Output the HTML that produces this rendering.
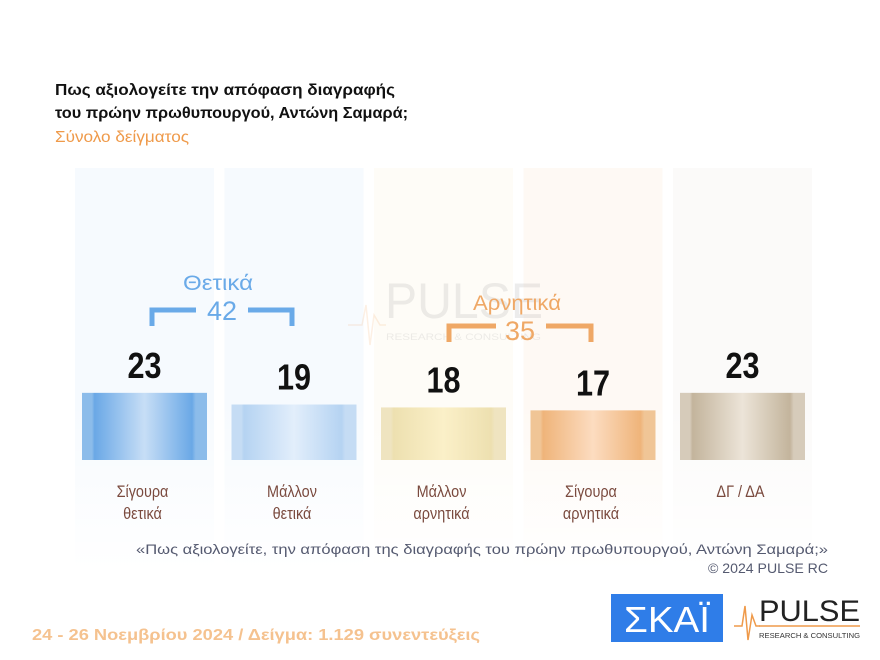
<!DOCTYPE html>
<html><head><meta charset="utf-8">
<style>
html,body{margin:0;padding:0;background:#fff;}
svg{display:block;font-family:"Liberation Sans","DejaVu Sans",sans-serif;}
</style></head>
<body>
<svg id="chart" width="880" height="660" viewBox="0 0 880 660">
<defs>
<linearGradient id="g0" x1="0" x2="1"><stop offset="0" stop-color="#8cbcea"/><stop offset="0.08" stop-color="#8cbcea"/><stop offset="0.1" stop-color="#6aa8e6"/><stop offset="0.5" stop-color="#c7def6"/><stop offset="0.88" stop-color="#6aa8e6"/><stop offset="0.91" stop-color="#8cbcea"/><stop offset="1" stop-color="#8cbcea"/></linearGradient>
<linearGradient id="g1" x1="0" x2="1"><stop offset="0" stop-color="#c5dcf4"/><stop offset="0.08" stop-color="#c5dcf4"/><stop offset="0.1" stop-color="#b5d3f2"/><stop offset="0.5" stop-color="#e2eefb"/><stop offset="0.88" stop-color="#b5d3f2"/><stop offset="0.91" stop-color="#c5dcf4"/><stop offset="1" stop-color="#c5dcf4"/></linearGradient>
<linearGradient id="g2" x1="0" x2="1"><stop offset="0" stop-color="#efe4c0"/><stop offset="0.08" stop-color="#efe4c0"/><stop offset="0.1" stop-color="#ede0b0"/><stop offset="0.5" stop-color="#fbf0c8"/><stop offset="0.88" stop-color="#ede0b0"/><stop offset="0.91" stop-color="#efe4c0"/><stop offset="1" stop-color="#efe4c0"/></linearGradient>
<linearGradient id="g3" x1="0" x2="1"><stop offset="0" stop-color="#f0c596"/><stop offset="0.08" stop-color="#f0c596"/><stop offset="0.1" stop-color="#efb47a"/><stop offset="0.5" stop-color="#fcdcc0"/><stop offset="0.88" stop-color="#efb47a"/><stop offset="0.91" stop-color="#f0c596"/><stop offset="1" stop-color="#f0c596"/></linearGradient>
<linearGradient id="g4" x1="0" x2="1"><stop offset="0" stop-color="#d6cbba"/><stop offset="0.08" stop-color="#d6cbba"/><stop offset="0.1" stop-color="#c3b49c"/><stop offset="0.5" stop-color="#ece4d8"/><stop offset="0.88" stop-color="#c3b49c"/><stop offset="0.91" stop-color="#d6cbba"/><stop offset="1" stop-color="#d6cbba"/></linearGradient>
<linearGradient id="colfade" x1="0" y1="0" x2="0" y2="1"><stop offset="0" stop-color="#fff" stop-opacity="0"/><stop offset="1" stop-color="#fff" stop-opacity="1"/></linearGradient>
</defs>

<text x="55" y="95" font-size="16" font-weight="bold" fill="#111" textLength="340" lengthAdjust="spacingAndGlyphs">Πως αξιολογείτε  την απόφαση διαγραφής</text>
<text x="55" y="118" font-size="16" font-weight="bold" fill="#111" textLength="353" lengthAdjust="spacingAndGlyphs">του πρώην πρωθυπουργού, Αντώνη Σαμαρά;</text>
<text x="55" y="142" font-size="16" fill="#ef9a4a" textLength="134" lengthAdjust="spacingAndGlyphs">Σύνολο δείγματος</text>

<g id="cols"></g>

<g opacity="0.15">
<text x="385" y="318" font-size="50" fill="#888" textLength="158" lengthAdjust="spacingAndGlyphs">PULSE</text>
<text x="386" y="340" font-size="9" fill="#888" textLength="155" lengthAdjust="spacingAndGlyphs">RESEARCH &amp; CONSULTING</text>
<polyline points="348,325 362,325 366,305 370,345 374,315 380,325 386,325" fill="none" stroke="#ef9a4a" stroke-width="1.5"/>
</g>

<g>
<text x="218" y="290" font-size="21" fill="#6aaae8" text-anchor="middle" textLength="70" lengthAdjust="spacingAndGlyphs">Θετικά</text>
<path d="M152,326 V310 H196 M248,310 H292 V326" fill="none" stroke="#6aaae8" stroke-width="5"/>
<text x="222" y="320" font-size="27" fill="#6aaae8" text-anchor="middle">42</text>
</g>
<g>
<text x="517" y="310" font-size="21" fill="#efa866" text-anchor="middle" textLength="88" lengthAdjust="spacingAndGlyphs">Αρνητικά</text>
<path d="M449,342 V326 H496 M546,326 H591 V342" fill="none" stroke="#efa866" stroke-width="5"/>
<text x="520" y="340" font-size="27" fill="#efa866" text-anchor="middle">35</text>
</g>

<g id="bars"></g>

<text x="828" y="554" font-size="14" fill="#555a70" text-anchor="end" textLength="692" lengthAdjust="spacingAndGlyphs">«Πως αξιολογείτε, την απόφαση της διαγραφής του πρώην πρωθυπουργού, Αντώνη Σαμαρά;»</text>
<text x="828" y="573" font-size="14" fill="#555a70" text-anchor="end" textLength="120" lengthAdjust="spacingAndGlyphs">©  2024  PULSE RC</text>

<text x="32" y="640" font-size="16" font-weight="bold" fill="#f5c28f" textLength="448" lengthAdjust="spacingAndGlyphs">24 - 26 Νοεμβρίου 2024  /  Δείγμα:  1.129 συνεντεύξεις</text>

<g>
<rect x="611" y="594" width="112" height="48" fill="#2f7de8"/>
<text x="667" y="632" font-size="36" fill="#fff" text-anchor="middle" textLength="86" lengthAdjust="spacingAndGlyphs">ΣΚΑΪ</text>
</g>
<g>
<polyline points="734,626 742,626 745,606 748,640 752,615 756,626 760,626" fill="none" stroke="#ef9a4a" stroke-width="1.5"/>
<text x="759" y="621" font-size="30" fill="#222" textLength="101" lengthAdjust="spacingAndGlyphs">PULSE</text>
<line x1="759" y1="626" x2="860" y2="626" stroke="#ef9a4a" stroke-width="1.5"/>
<text x="759" y="638" font-size="7.5" fill="#333" textLength="101" lengthAdjust="spacingAndGlyphs">RESEARCH &amp; CONSULTING</text>
</g>
</svg>
<script>
const categories = [["Σίγουρα","θετικά"],["Μάλλον","θετικά"],["Μάλλον","αρνητικά"],["Σίγουρα","αρνητικά"],["ΔΓ / ΔΑ"]];
const values = [23, 19, 18, 17, 23];
const barColors = ["url(#g0)","url(#g1)","url(#g2)","url(#g3)","url(#g4)"];
const colTints = ["#f6fafe","#f6fafe","#fefcf7","#fef9f4","#fbfaf9"];

const NS = "http://www.w3.org/2000/svg";
const baseY = 460, unit = 2.92;
const xStart = 82, step = 149.5, barW = 125;
function xPos(i){ return xStart + i*step; }
function yPos(v){ return baseY - v*unit; }

const cols = document.getElementById('cols');
const bars = document.getElementById('bars');
categories.forEach((c,i)=>{
  const bg = document.createElementNS(NS,'rect');
  bg.setAttribute('x', xPos(i)-7); bg.setAttribute('y',168);
  bg.setAttribute('width', 139); bg.setAttribute('height', 400);
  bg.setAttribute('fill', colTints[i]);
  
  
  cols.appendChild(bg);
});
const fade = document.createElementNS(NS,'rect');
fade.setAttribute('x',60); fade.setAttribute('y',400); fade.setAttribute('width',760); fade.setAttribute('height',170);
fade.setAttribute('fill','url(#colfade)');


cols.appendChild(fade);

values.forEach((v,i)=>{
  const cx = xPos(i)+barW/2;
  const r = document.createElementNS(NS,'rect');
  r.setAttribute('x', xPos(i)); r.setAttribute('y', yPos(v));
  r.setAttribute('width', barW); r.setAttribute('height', baseY - yPos(v));
  r.setAttribute('fill', barColors[i]);
  
  
  bars.appendChild(r);

  const t = document.createElementNS(NS,'text');
  t.setAttribute('x', cx/0.85); t.setAttribute('y', yPos(v)-15);
  t.setAttribute('text-anchor','middle'); t.setAttribute('font-size','36');
  t.setAttribute('font-weight','bold'); t.setAttribute('fill','#111');
  t.setAttribute('transform', 'scale(0.85,1)');
  t.textContent = v;
  
  
  bars.appendChild(t);

  categories[i].forEach((line,j)=>{
    const c = document.createElementNS(NS,'text');
    c.setAttribute('x', (cx-2)/0.85);
    c.setAttribute('y', 497 + j*22);
    c.setAttribute('text-anchor','middle'); c.setAttribute('font-size','17');
    c.setAttribute('fill','#7a4a3e');
    c.setAttribute('transform', 'scale(0.85,1)');
    c.textContent = line;
    
    
    bars.appendChild(c);
  });
});
</script>
</body></html>
